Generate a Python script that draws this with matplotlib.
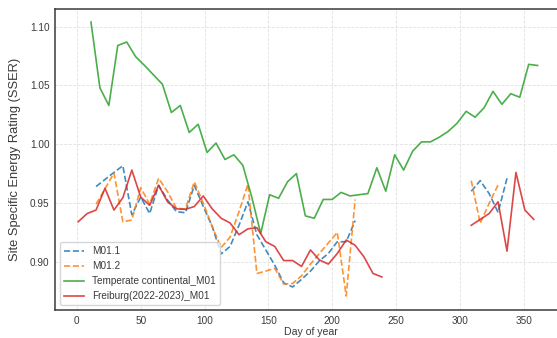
import numpy as np
import matplotlib
matplotlib.use("Agg")
import matplotlib.pyplot as plt

# ---------------- data ----------------
m011_days = [15, 22, 29, 36, 43, 50, 57, 64, 71, 78, 85, 92, 99, 106, 113, 120,
             127, 134, 141, 148, 155, 162, 169, 176, 183, 190, 197, 204, 211, 218,
             260,
             309, 316, 323, 330, 337]
m011_vals = [0.964, 0.970, 0.976, 0.9817, 0.940, 0.955, 0.941, 0.965, 0.9525, 0.9426,
             0.9417, 0.965, 0.947, 0.930, 0.9066, 0.913, 0.931, 0.951, 0.923, 0.910,
             0.897, 0.882, 0.8785, 0.885, 0.892, 0.9008, 0.907, 0.917, 0.917, 0.935,
             np.nan,
             0.960, 0.969, 0.958, 0.942, 0.971]

m012_days = [15, 22, 29, 36, 43, 50, 57, 64, 71, 78, 85, 92, 99, 106, 113, 120,
             127, 134, 141, 148, 155, 162, 169, 176, 183, 190, 197, 204, 211, 218,
             260,
             309, 316, 323, 330]
m012_vals = [0.949, 0.962, 0.9755, 0.934, 0.9355, 0.963, 0.949, 0.971, 0.9596, 0.9454,
             0.945, 0.968, 0.9497, 0.930, 0.912, 0.921, 0.9426, 0.966, 0.890, 0.892,
             0.8944, 0.881, 0.8815, 0.888, 0.898, 0.907, 0.916, 0.925, 0.8708, 0.953,
             np.nan,
             0.969, 0.9327, 0.9497, 0.9653]

temp_days = [11, 18, 25, 32, 39, 46, 53, 60, 67, 74, 81, 88, 95, 102, 109, 116, 123,
             130, 137, 144, 151, 158, 165, 172, 179, 186, 193, 200, 207, 214, 221, 228,
             235, 242, 249, 256, 263, 270, 277, 284, 291, 298, 305, 312, 319, 326, 333,
             340, 347, 354, 361]
temp_vals = [1.104, 1.048, 1.033, 1.084, 1.087, 1.0745, 1.067, 1.059, 1.051, 1.027,
             1.033, 1.010, 1.017, 0.993, 1.001, 0.987, 0.991, 0.982, 0.955, 0.924,
             0.957, 0.954, 0.968, 0.975, 0.939, 0.937, 0.953, 0.953, 0.959, 0.956,
             0.957, 0.958, 0.980, 0.960, 0.991, 0.978, 0.994, 1.002, 1.002, 1.006,
             1.011, 1.018, 1.028, 1.023, 1.031, 1.045, 1.034, 1.043, 1.040, 1.068,
             1.067]

frei_days = [1, 8, 15, 22, 29, 36, 43, 50, 57, 64, 71, 78, 85, 92, 99, 106, 113, 120,
             127, 134, 141, 148, 155, 162, 169, 176, 183, 190, 197, 204, 211, 218, 225,
             232, 239,
             270,
             309, 316, 323, 330, 337, 344, 351, 358]
frei_vals = [0.934, 0.941, 0.944, 0.9625, 0.944, 0.9545, 0.978, 0.955, 0.948, 0.965,
             0.951, 0.945, 0.9446, 0.947, 0.956, 0.945, 0.937, 0.933, 0.923, 0.928,
             0.929, 0.917, 0.913, 0.901, 0.901, 0.896, 0.910, 0.9015, 0.898, 0.907,
             0.9185, 0.914, 0.904, 0.890, 0.887,
             np.nan,
             0.931, 0.936, 0.941, 0.951, 0.909, 0.976, 0.944, 0.936]

series_labels = ["M01.1", "M01.2", "Temperate continental_M01", "Freiburg(2022-2023)_M01"]
x_ticks = [0, 50, 100, 150, 200, 250, 300, 350]
y_ticks = [0.90, 0.95, 1.00, 1.05, 1.10]

# ---------------- style ----------------
plt.rcParams['font.family'] = ['Liberation Sans', 'DejaVu Sans']

fig = plt.figure(figsize=(5.57, 3.38), dpi=100)
ax = fig.add_axes([0.0987, 0.0828, 0.9174, 0.892])

ax.plot(m011_days, m011_vals, color='#1f77b4', ls='--', lw=1.2, alpha=0.85, label=series_labels[0])
ax.plot(m012_days, m012_vals, color='#ff7f0e', ls='--', lw=1.2, alpha=0.85, label=series_labels[1])
ax.plot(temp_days, temp_vals, color='#2ca02c', ls='-', lw=1.2, alpha=0.85, label=series_labels[2])
ax.plot(frei_days, frei_vals, color='#d62728', ls='-', lw=1.2, alpha=0.85, label=series_labels[3])

ax.set_xlim(-17.2, 383.2)
ax.set_ylim(0.8589, 1.1155)
ax.set_xticks(x_ticks)
ax.set_yticks(y_ticks)
ax.set_yticklabels([f"{v:.2f}" for v in y_ticks])

ax.grid(True, color='#e0e0e0', ls='--', lw=0.6)
ax.set_axisbelow(True)
for s in ax.spines.values():
    s.set_color('#3a3a3a')
    s.set_linewidth(1.1)
ax.tick_params(length=0, labelsize=7.2, colors='#3a3a3a', pad=4)

ax.set_xlabel("Day of year", fontsize=7.6, color='#3a3a3a', labelpad=1)
ax.set_ylabel("Site Specific Energy Rating (SSER)", fontsize=9.3, color='#3a3a3a', labelpad=6)

leg = ax.legend(loc='lower left', fontsize=7.2, frameon=True, framealpha=0.8,
                edgecolor='#cccccc', borderaxespad=0.5)
for t in leg.get_texts():
    t.set_color('#3a3a3a')

fig.savefig("out.png", dpi=100)
